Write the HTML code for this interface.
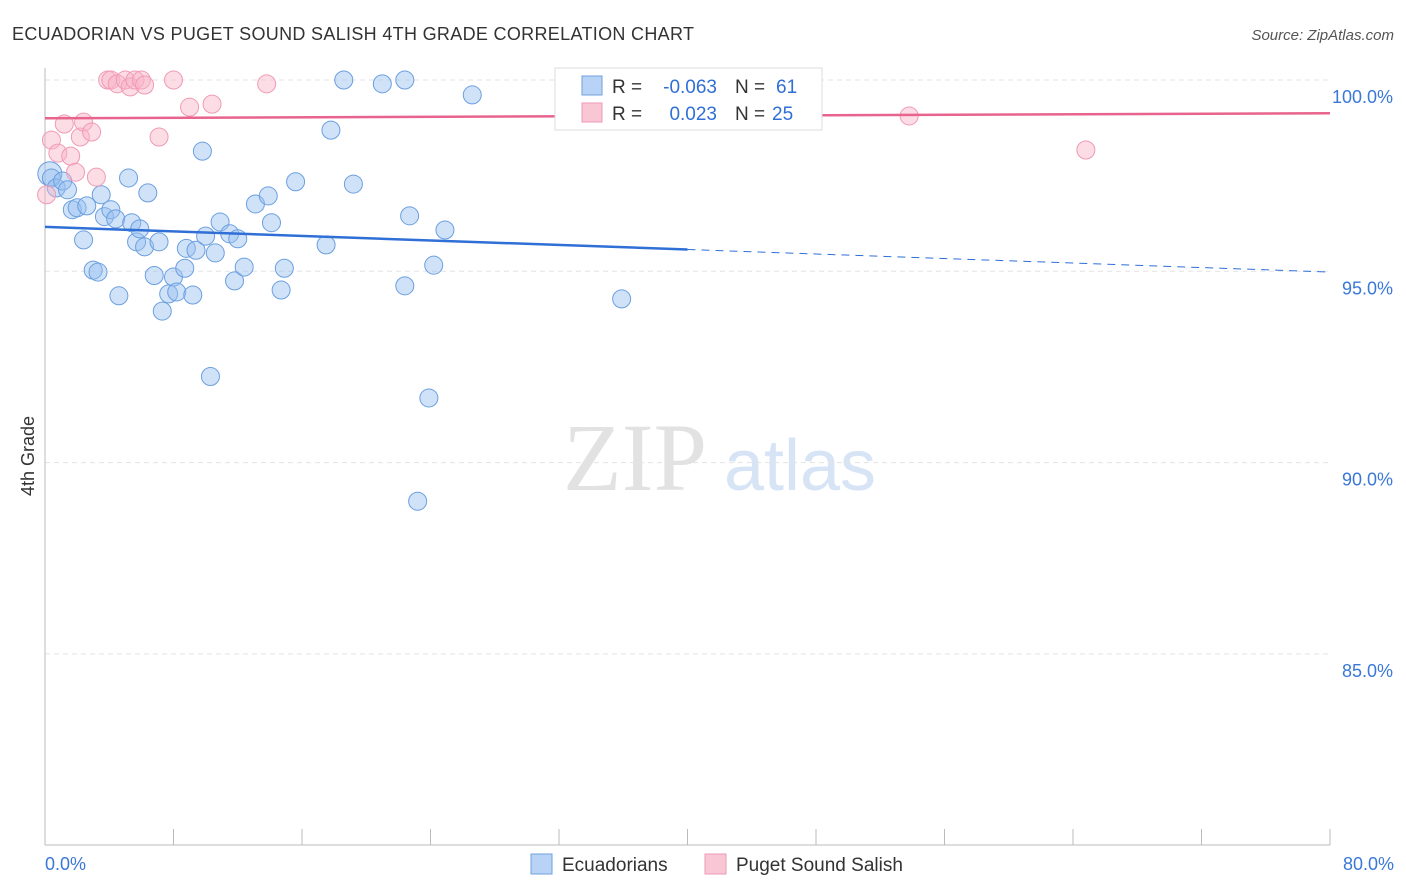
<!DOCTYPE html>
<html><head><meta charset="utf-8">
<style>
body{margin:0;background:#fff;font-family:"Liberation Sans",sans-serif;}
svg{display:block}
</style></head>
<body>
<svg id="chart" width="1406" height="892">
<text x="12" y="40" font-size="18" textLength="682" fill="#333">ECUADORIAN VS PUGET SOUND SALISH 4TH GRADE CORRELATION CHART</text>
<text x="1394" y="40" font-size="15" fill="#555" font-style="italic" text-anchor="end">Source: ZipAtlas.com</text>
<text x="635" y="490" font-size="96" fill="#e2e2e2" font-family="Liberation Serif,serif" text-anchor="middle">ZIP</text>
<text x="800" y="490" font-size="72" fill="#d6e4f5" text-anchor="middle">atlas</text>
<g id="grid"></g>
<g id="axes"></g>
<g id="marks"></g>
<text transform="translate(34,456) rotate(-90)" font-size="18" fill="#333" text-anchor="middle">4th Grade</text>
<g>
<rect x="555" y="68" width="267" height="62" fill="#fff" stroke="#ddd"/>
<rect x="582" y="76" width="20" height="19" fill="#b8d3f5" stroke="#6fa0e0"/>
<rect x="582" y="103" width="20" height="19" fill="#f9c6d5" stroke="#ef9ab4"/>
<text x="612" y="93" font-size="19" fill="#333">R =</text>
<text x="717" y="93" font-size="19" fill="#2f6fd6" text-anchor="end">-0.063</text>
<text x="735" y="93" font-size="19" fill="#333">N =</text>
<text x="776" y="93" font-size="19" fill="#2f6fd6">61</text>
<text x="612" y="120" font-size="19" fill="#333">R =</text>
<text x="717" y="120" font-size="19" fill="#2f6fd6" text-anchor="end">0.023</text>
<text x="735" y="120" font-size="19" fill="#333">N =</text>
<text x="772" y="120" font-size="19" fill="#2f6fd6">25</text>
</g>
<g>
<rect x="531" y="854" width="21" height="20" fill="#b8d3f5" stroke="#6fa0e0"/>
<text x="562" y="871" font-size="19" fill="#333">Ecuadorians</text>
<rect x="705" y="854" width="21" height="20" fill="#f9c6d5" stroke="#ef9ab4"/>
<text x="736" y="871" font-size="19" fill="#333">Puget Sound Salish</text>
</g>
</svg>
<script>
const yTicks=[100,95,90,85];
const yTickLabels=["100.0%","95.0%","90.0%","85.0%"];
const xTicks=[0,8,16,24,32,40,48,56,64,72,80];
const xEndLabels=["0.0%","80.0%"];
const blueX=[0.3,0.4,0.7,1.1,1.4,1.7,2.0,2.6,2.4,3.0,3.3,3.5,3.7,4.1,4.4,4.6,5.2,5.4,5.7,5.9,6.2,6.4,6.8,7.1,7.3,7.7,8.0,8.2,8.7,8.8,9.2,9.4,9.8,10.0,10.3,10.6,10.9,11.5,11.8,12.0,12.4,13.1,13.9,14.1,14.7,14.9,15.6,17.5,17.8,18.6,19.2,21.0,22.4,22.4,22.7,23.2,23.9,24.2,24.9,26.6,35.9];
const blueY=[97.55,97.44,97.18,97.36,97.13,96.61,96.66,96.71,95.82,95.03,94.98,97.00,96.43,96.61,96.37,94.36,97.44,96.27,95.77,96.11,95.64,97.05,94.89,95.77,93.96,94.41,94.85,94.46,95.08,95.60,94.38,95.55,98.14,95.92,92.25,95.48,96.29,95.98,94.75,95.85,95.11,96.76,96.97,96.27,94.51,95.08,97.34,95.69,98.69,100.0,97.28,99.90,100.0,94.62,96.45,88.99,91.69,95.16,96.08,99.61,94.28];
const pinkX=[0.1,0.4,0.8,1.2,1.6,1.9,2.2,2.4,2.9,3.2,3.9,4.1,4.5,5.0,5.3,5.6,6.0,6.2,7.1,8.0,9.0,10.4,13.8,53.8,64.8];
const pinkY=[97.00,98.43,98.09,98.85,98.01,97.59,98.51,98.90,98.64,97.46,100.0,100.0,99.90,100.0,99.82,100.0,100.0,99.87,98.51,100.0,99.29,99.37,99.90,99.06,98.17];
const blueTrend=[96.16,94.98];
const pinkTrend=[99.0,99.13];

const X=v=>45+v/80*1285;
const Y=v=>80+(100-v)*38.26;
const NS="http://www.w3.org/2000/svg";
function mk(tag,attrs,parent){const e=document.createElementNS(NS,tag);for(const k in attrs)e.setAttribute(k,attrs[k]);document.getElementById(parent).appendChild(e);return e;}

yTicks.forEach((t,i)=>{
  const g=mk('line',{x1:45,x2:1330,y1:Y(t),y2:Y(t),stroke:'#e3e3e3','stroke-dasharray':'5,4'},'grid');
  
  
  const l=mk('text',{x:1393,y:Y(t)+23,'font-size':18,fill:'#3a78d8','text-anchor':'end'},'grid');
  l.textContent=yTickLabels[i];
  
  
});
const ya=mk('line',{x1:45,x2:45,y1:68,y2:845,stroke:'#bbb'},'axes');


const xa=mk('line',{x1:45,x2:1330,y1:845,y2:845,stroke:'#bbb'},'axes');


xTicks.forEach(t=>{
  const tk=mk('line',{x1:X(t),x2:X(t),y1:829,y2:845,stroke:'#bbb'},'axes');
  
  
});
[[0,'start',45],[80,'end',1394]].forEach((d,i)=>{
  const l=mk('text',{x:d[2],y:870,'font-size':18,fill:'#3a78d8','text-anchor':d[1]},'axes');
  l.textContent=xEndLabels[i];
  
  
});

blueX.forEach((x,i)=>{
  const c=mk('circle',{cx:X(x),cy:Y(blueY[i]),r:i==0?12:9,fill:'rgba(150,190,240,0.45)',stroke:'#6b9fe0','stroke-width':1},'marks');
  
  
});
pinkX.forEach((x,i)=>{
  const c=mk('circle',{cx:X(x),cy:Y(pinkY[i]),r:9,fill:'rgba(248,180,200,0.45)',stroke:'#f09ab5','stroke-width':1},'marks');
  
  
});
const bm=blueTrend[0]+(blueTrend[1]-blueTrend[0])*0.5;
const b1=mk('line',{x1:X(0),y1:Y(blueTrend[0]),x2:X(40),y2:Y(bm),stroke:'#2f6fd6','stroke-width':2.5},'marks');


const b2=mk('line',{x1:X(40),y1:Y(bm),x2:X(80),y2:Y(blueTrend[1]),stroke:'#2f6fd6','stroke-width':1,'stroke-dasharray':'8,6'},'marks');


const p1=mk('line',{x1:X(0),y1:Y(pinkTrend[0]),x2:X(80),y2:Y(pinkTrend[1]),stroke:'#e8638d','stroke-width':2.5},'marks');


</script>
</body></html>
